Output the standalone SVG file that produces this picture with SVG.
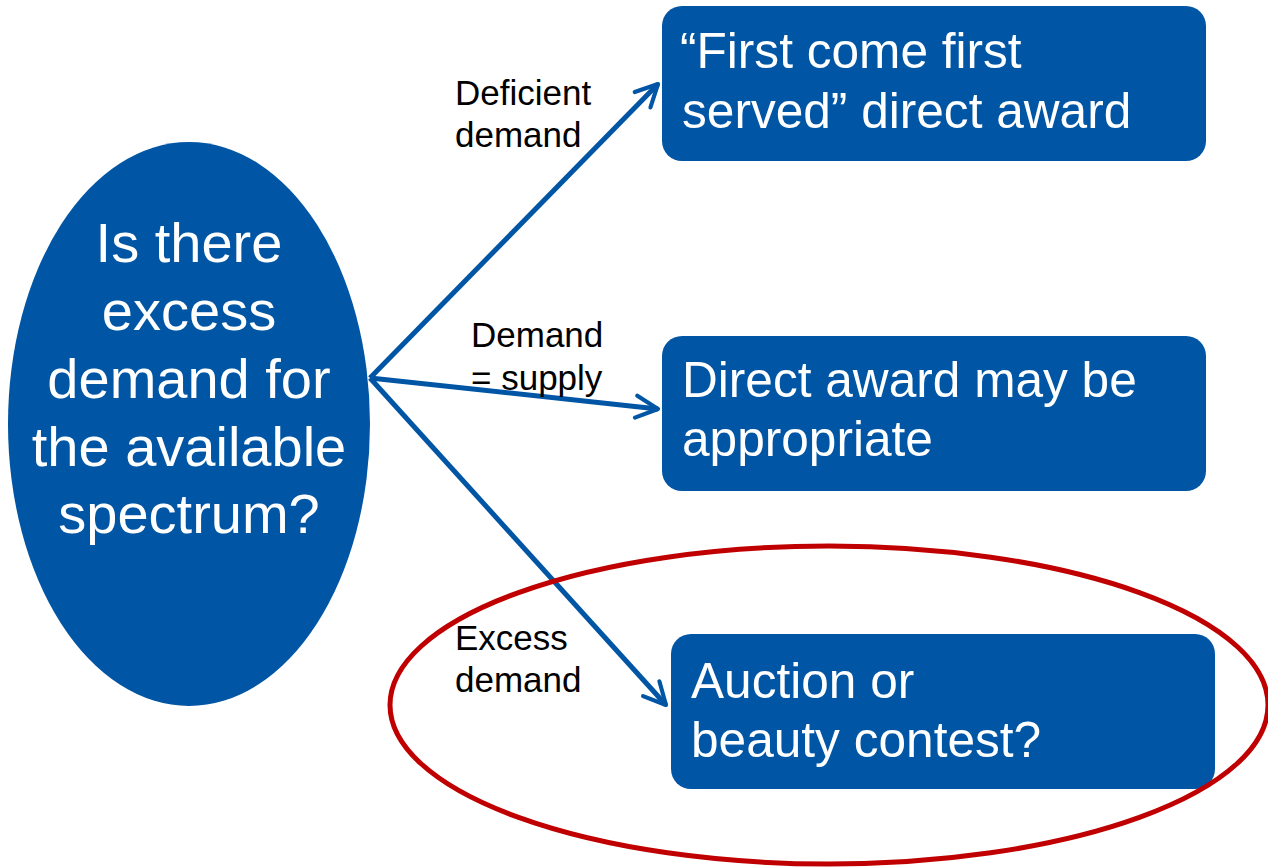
<svg xmlns="http://www.w3.org/2000/svg" width="1268" height="867" viewBox="0 0 1268 867">
  <defs>
    <style>
      .node { fill: #0055A4; }
      .big { font-family: "Liberation Sans", Arial, sans-serif; font-size: 56px; fill: #ffffff; text-anchor: middle; }
      .box { font-family: "Liberation Sans", Arial, sans-serif; font-size: 49.6px; fill: #ffffff; }
      .lbl { font-family: "Liberation Sans", Arial, sans-serif; font-size: 35px; fill: #000000; }
      .edge { stroke: #0055A4; stroke-width: 5; fill: none; marker-end: url(#chev); }
    </style>
    <marker id="chev" viewBox="0 0 10 10" refX="9" refY="5" markerWidth="5.5" markerHeight="5.5" orient="auto" markerUnits="strokeWidth">
      <path d="M1,1 L9,5 L1,9" fill="none" stroke="#0055A4" stroke-width="1.5" stroke-linecap="round" stroke-linejoin="round"/>
    </marker>
  </defs>
  <rect width="1268" height="867" fill="#ffffff"/>

  <g id="connectors">
    <line class="edge" x1="370" y1="378" x2="658" y2="84"/>
    <line class="edge" x1="370" y1="378" x2="658" y2="409"/>
    <line class="edge" x1="370" y1="378" x2="666" y2="705"/>
  </g>

  <g id="labels">
    <text class="lbl" x="455" y="105">Deficient</text>
    <text class="lbl" x="455" y="147">demand</text>
    <text class="lbl" x="471" y="347">Demand</text>
    <text class="lbl" x="471" y="390">= supply</text>
    <text class="lbl" x="455" y="650">Excess</text>
    <text class="lbl" x="455" y="692">demand</text>
  </g>

  <g id="question">
    <ellipse class="node" cx="189" cy="424" rx="181" ry="282"/>
    <text class="big" x="189" y="262">Is there</text>
    <text class="big" x="189" y="330">excess</text>
    <text class="big" x="189" y="398">demand for</text>
    <text class="big" x="189" y="466">the available</text>
    <text class="big" x="189" y="533">spectrum?</text>
  </g>

  <g id="fcfs">
    <rect class="node" x="662" y="6" width="544" height="155" rx="20"/>
    <text class="box" x="680" y="68">“First come first</text>
    <text class="box" x="682" y="128">served” direct award</text>
  </g>

  <g id="direct">
    <rect class="node" x="662" y="336" width="544" height="155" rx="20"/>
    <text class="box" x="682" y="397">Direct award may be</text>
    <text class="box" x="682" y="456">appropriate</text>
  </g>

  <g id="auction">
    <rect class="node" x="671" y="634" width="544" height="155" rx="20"/>
    <text class="box" x="691" y="698">Auction or</text>
    <text class="box" x="691" y="757">beauty contest?</text>
  </g>

  <g id="highlight">
    <ellipse cx="829" cy="705" rx="439" ry="159" fill="none" stroke="#C00000" stroke-width="5"/>
  </g>
</svg>
